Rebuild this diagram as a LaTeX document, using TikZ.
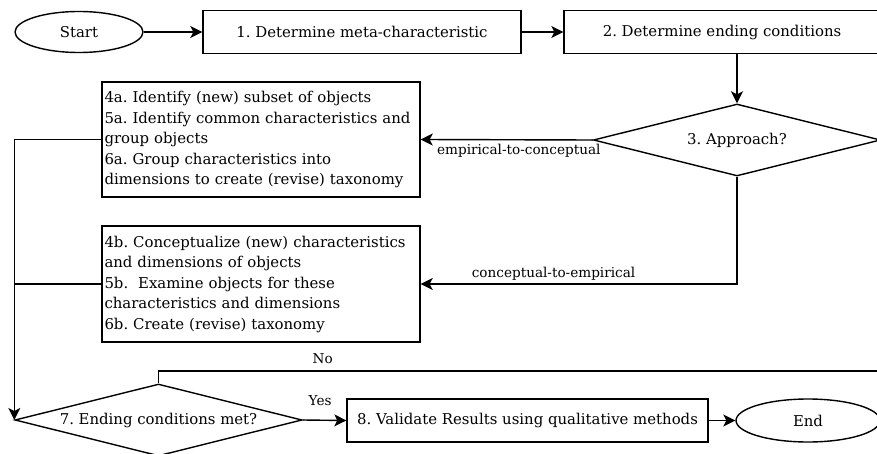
\documentclass[tikz,border=0pt]{standalone}
\usepackage{fontspec}
\setmainfont{DejaVu Serif}
\usetikzlibrary{shapes.geometric,arrows.meta}

\begin{document}
\frenchspacing
\begin{tikzpicture}[x=1pt,y=-1pt,line width=1.4pt,
    font=\fontsize{14.9}{20.5}\selectfont,
    box/.style={draw,rectangle,inner sep=0pt,minimum height=43pt},
    textbox/.style={draw,rectangle,inner xsep=2.5pt,inner ysep=0pt,align=left,text width=313pt},
    oval/.style={draw,ellipse,inner sep=0pt,minimum height=41pt},
    decide/.style={draw,diamond,aspect=4,inner sep=0pt,minimum width=287pt,minimum height=72pt},
    arr/.style={-{Stealth[length=12pt,width=12pt,inset=3pt]}},
    lab/.style={font=\fontsize{13.6}{16}\selectfont}]
          \useasboundingbox (0,0) rectangle (877,454);
          \clip (0,0) rectangle (877,454);

          \node[oval,minimum width=128pt] (start) at (79,32) {Start};
          \node[box,minimum width=318pt] (meta) at (362,32) {1. Determine meta-characteristic};
          \node[box,minimum width=316pt] (ending) at (722,32) {2. Determine ending conditions};
          \node[decide] (approach) at (737,140) {3. Approach?};

          \node[textbox,minimum height=115pt] (empir) at (261,139.5)
               {4a. Identify (new) subset of objects\\
                5a. Identify common characteristics and\\group objects\\
                6a. Group characteristics into\\dimensions to create (revise) taxonomy};
          \node[textbox,minimum height=116pt] (concep) at (261,284)
               {4b. Conceptualize (new) characteristics\\and dimensions of objects\\
                5b.\ \ Examine objects for these\\characteristics and dimensions\\
                6b. Create (revise) taxonomy};

          \node[decide] (met) at (158.5,420) {7. Ending conditions met?};
          \node[box,minimum width=361pt] (valid) at (527.5,420.5) {8. Validate Results using qualitative methods};
          \node[oval,minimum width=144pt,minimum height=43pt] (end) at (808,420.5) {End};

          \draw[arr] (start) -- (meta);
          \draw[arr] (meta) -- (ending);
          \draw[arr] (ending.south -| approach.north) -- (approach.north);

          \draw[arr] (approach.west) -- node[lab,below,pos=0.43]{empirical-to-conceptual} (empir.east);
          \draw[arr] (approach.south) |- node[lab,above,pos=0.79]{conceptual-to-empirical} (concep.east);

          \draw[arr] (empir.west) -| (met.west);
          \draw (concep.west) -- (concep.west -| met.west);

          \coordinate (loop) at (905,371);
          \draw[arr] (met.north) |- node[lab,above=3pt,pos=0.61]{No} (loop) |- (approach.east);
          \draw[arr] (met.east) -- node[lab,above=10pt,pos=0.4]{Yes} (valid.west);
          \draw[arr] (valid) -- (end);
\end{tikzpicture}
\end{document}
